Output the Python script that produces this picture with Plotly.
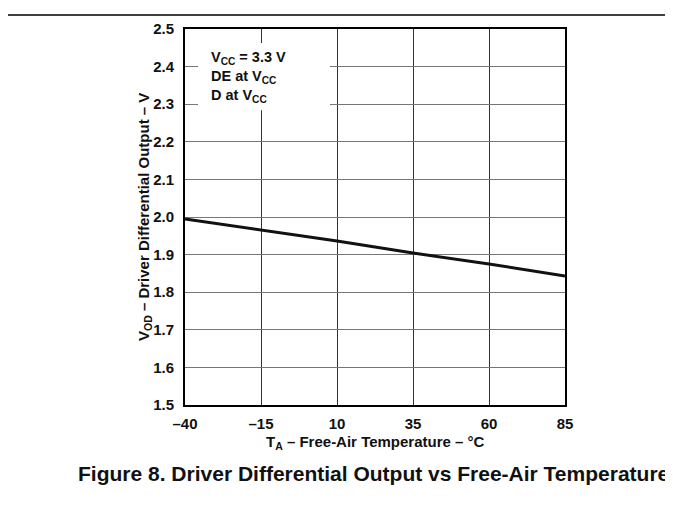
import plotly.graph_objects as go

temps = [-40, -15, 10, 35, 60, 85]
vod = [1.995, 1.965, 1.936, 1.904, 1.875, 1.843]
x_ticks = [-40, -15, 10, 35, 60, 85]
x_tick_labels = ["–40", "–15", "10", "35", "60", "85"]
y_ticks = [1.5, 1.6, 1.7, 1.8, 1.9, 2.0, 2.1, 2.2, 2.3, 2.4, 2.5]
y_tick_labels = ["1.5", "1.6", "1.7", "1.8", "1.9", "2.0", "2.1", "2.2", "2.3", "2.4", "2.5"]

FONT = "Liberation Sans, Arial, sans-serif"

fig = go.Figure()
fig.add_trace(go.Scatter(x=temps, y=vod, mode="lines",
                         line=dict(color="#111111", width=3), hoverinfo="skip"))

fig.update_layout(
    width=673, height=510,
    margin=dict(l=177, r=116, t=18, b=113),
    paper_bgcolor="white", plot_bgcolor="white",
    showlegend=False,
    font=dict(family=FONT, color="black", size=14),
    xaxis=dict(range=[-40, 85], tickvals=x_ticks, ticktext=x_tick_labels,
               showgrid=True, gridcolor="#333333", gridwidth=1,
               showline=True, linecolor="black", linewidth=2, mirror=True,
               ticks="", zeroline=False, ticklabelstandoff=4,
               tickfont=dict(family=FONT, size=15, weight="bold", color="#111")),
    yaxis=dict(range=[1.5, 2.5], tickvals=y_ticks, ticktext=y_tick_labels,
               showgrid=True, gridcolor="#777777", gridwidth=1,
               showline=True, linecolor="black", linewidth=2, mirror=True,
               ticks="", zeroline=False, ticklabelstandoff=6,
               tickfont=dict(family=FONT, size=15, weight="bold", color="#111")),
)

# white box behind condition text
fig.add_shape(type="rect", xref="paper", yref="paper",
              x0=(190-177)/380, x1=(322-177)/380,
              y0=(397-100)/379, y1=(397-32)/379,
              fillcolor="white", line=dict(width=0), layer="above")

fig.add_annotation(xref="paper", yref="paper", x=(201-177)/380, y=(397-36)/379,
                   xanchor="left", yanchor="top", align="left", showarrow=False,
                   text="V<sub>CC</sub> = 3.3 V<br>DE at V<sub>CC</sub><br>D at V<sub>CC</sub>",
                   font=dict(family=FONT, size=14.5, weight="bold", color="#111"))

# axis titles
fig.add_annotation(xref="paper", yref="paper", x=0.5, y=(397-435)/379,
                   xanchor="center", yanchor="middle", showarrow=False,
                   text="T<sub>A</sub> – Free-Air Temperature – °C",
                   font=dict(family=FONT, size=15, weight="bold", color="#111"))
fig.add_annotation(xref="paper", yref="paper", x=(136-177)/380, y=0.5,
                   xanchor="center", yanchor="middle", showarrow=False, textangle=-90,
                   text="V<sub>OD</sub> – Driver Differential Output – V",
                   font=dict(family=FONT, size=15, weight="bold", color="#111"))

# figure caption
fig.add_annotation(xref="paper", yref="paper", x=(365-177)/380, y=(397-466)/379,
                   xanchor="center", yanchor="middle", showarrow=False,
                   text="Figure 8. Driver Differential Output vs Free-Air Temperature",
                   font=dict(family=FONT, size=21, weight="bold", color="#111"))

# page frame lines (top and right)
fig.add_shape(type="line", xref="paper", yref="paper",
              x0=(0-177)/380, x1=(673-177)/380, y0=(397-4)/379, y1=(397-4)/379,
              line=dict(color="black", width=1.5))
fig.add_shape(type="line", xref="paper", yref="paper",
              x0=(669-177)/380, x1=(669-177)/380, y0=(397-4)/379, y1=(397-512)/379,
              line=dict(color="black", width=1.5))

fig.write_html("out.html")
